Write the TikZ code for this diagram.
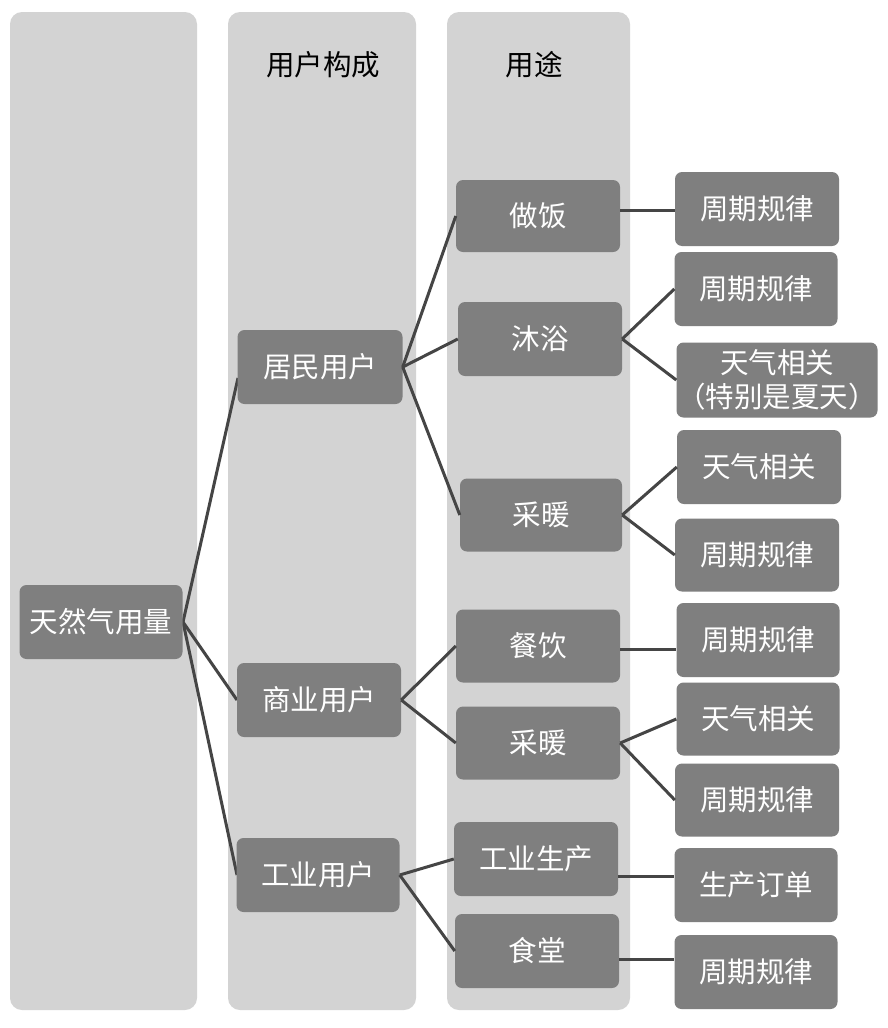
\documentclass[tikz,border=0pt]{standalone}
\usepackage{fontspec}
\setmainfont{Noto Sans CJK SC}
\begin{document}
\begin{tikzpicture}[x=1pt,y=-1pt,
  lane/.style={fill=laneGray,draw=none,rounded corners=12pt},
  box/.style={rectangle,fill=boxGray,draw=none,rounded corners=7pt,text=white,
    font=\fontsize{28.5}{32}\selectfont,inner sep=0pt,align=center},
  head/.style={text=black,font=\fontsize{28.5}{32}\selectfont,inner sep=0pt},
  link/.style={draw=lineGray,line width=3pt}]
\definecolor{laneGray}{HTML}{D3D3D3}
\definecolor{boxGray}{HTML}{7F7F7F}
\definecolor{lineGray}{HTML}{454545}
\useasboundingbox (0,0) rectangle (888,1028);
\fill[white] (0,0) rectangle (888,1028);
% lanes
\fill[lane] (10,12) rectangle (197,1010);
\fill[lane] (228,12) rectangle (416,1010);
\fill[lane] (447,12) rectangle (630,1010);
\node[head] (h1) at (323,65) {用户构成};
\node[head] (h2) at (534,65) {用途};
% links (drawn first so boxes cover their ends)
\coordinate (rootE) at (183,622);
\coordinate (jmW) at (238,378);
\coordinate (syW) at (237,700);
\coordinate (gyW) at (237,875);
\path[link] (rootE) -- (jmW);
\path[link] (rootE) -- (syW);
\path[link] (rootE) -- (gyW);
% boxes
\node[box,minimum width=163pt,minimum height=74pt] (root) at (101,622) {天然气用量};
\node[box,minimum width=165pt,minimum height=74pt] (jm) at (320,367) {居民用户};
\node[box,minimum width=164pt,minimum height=74pt] (sy) at (319,700) {商业用户};
\node[box,minimum width=163pt,minimum height=74pt] (gy) at (318,875) {工业用户};
\node[box,minimum width=164pt,minimum height=72pt] (zf) at (538,216) {做饭};
\node[box,minimum width=164pt,minimum height=74pt] (my) at (540,339) {沐浴};
\node[box,minimum width=162pt,minimum height=73pt] (cn1) at (541,515) {采暖};
\node[box,minimum width=164pt,minimum height=73pt] (cy) at (538,646) {餐饮};
\node[box,minimum width=164pt,minimum height=73pt] (cn2) at (538,743) {采暖};
\node[box,minimum width=164pt,minimum height=74pt] (gysc) at (536,859) {工业生产};
\node[box,minimum width=164pt,minimum height=74pt] (st) at (537,951) {食堂};
\node[box,minimum width=164pt,minimum height=74pt] (r1) at (757,209) {周期规律};
\node[box,minimum width=163pt,minimum height=74pt] (r2) at (756,289) {周期规律};
\node[box,minimum width=201pt,minimum height=75pt,font=\fontsize{28.5}{34}\selectfont] (r3) at (777,380) {天气相关\\（特别是夏天）};
\node[box,minimum width=164pt,minimum height=74pt] (r4) at (759,467) {天气相关};
\node[box,minimum width=164pt,minimum height=73pt] (r5) at (757,555) {周期规律};
\node[box,minimum width=163pt,minimum height=74pt] (r6) at (758,640) {周期规律};
\node[box,minimum width=163pt,minimum height=73pt] (r7) at (758,719) {天气相关};
\node[box,minimum width=164pt,minimum height=73pt] (r8) at (757,800) {周期规律};
\node[box,minimum width=163pt,minimum height=74pt] (r9) at (756,885) {生产订单};
\node[box,minimum width=163pt,minimum height=74pt] (r10) at (756,972) {周期规律};
% links
\path[link] (jm.east) -- (zf.west);
\path[link] (jm.east) -- (my.west);
\path[link] (jm.east) -- (cn1.west);
\path[link] (sy.east) -- (cy.west);
\path[link] (sy.east) -- (cn2.west);
\path[link] (gy.east) -- (gysc.west);
\path[link] (gy.east) -- (st.west);
\path[link] (zf.east |- 0,210) -- (r1.west |- 0,210);
\path[link] (my.east) -- (r2.west);
\path[link] (my.east) -- (r3.west);
\path[link] (cn1.east) -- (r4.west);
\path[link] (cn1.east) -- (r5.west);
\path[link] (cy.east |- 0,649) -- (r6.west |- 0,649);
\path[link] (cn2.east) -- (r7.west);
\path[link] (cn2.east) -- (r8.west);
\path[link] (gysc.east |- 0,876) -- (r9.west |- 0,876);
\path[link] (st.east |- 0,959) -- (r10.west |- 0,959);
\end{tikzpicture}
\end{document}
